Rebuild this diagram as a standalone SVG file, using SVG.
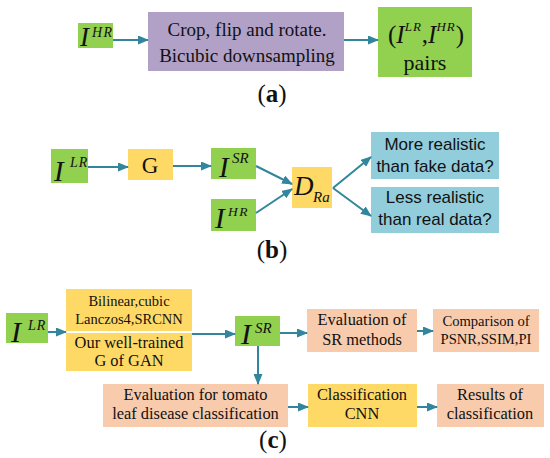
<svg xmlns="http://www.w3.org/2000/svg" width="550" height="458" viewBox="0 0 550 458" font-family="'Liberation Serif','Times New Roman',serif">
<defs>
<style>
.g{fill:#92d050}.p{fill:#b2a1c7}.y{fill:#ffd966}.b{fill:#92cddc}.s{fill:#f8cbad}
text{font-family:"Liberation Serif","Times New Roman",serif;fill:#111}
text.sans{font-family:"Liberation Sans",Arial,sans-serif}
.c{text-anchor:middle}
.it{font-style:italic}
.lab{font-size:25px}
.lab tspan.bd{font-weight:bold}
.ar{stroke:#31859c;stroke-width:2;fill:none;marker-end:url(#ah)}
</style>
<marker id="ah" markerUnits="userSpaceOnUse" markerWidth="11" markerHeight="9" refX="10" refY="4.5" orient="auto">
<path d="M0,0 L11,4.5 L0,9 z" fill="#31859c"/>
</marker>
</defs>
<rect width="550" height="458" fill="#fff"/>

<!-- Panel (a) -->
<g id="a-ihr">
<rect class="g" x="78" y="23" width="35" height="25"/>
<text class="it" x="80" y="46" font-size="27">I</text>
<text class="it" x="92" y="37" font-size="14" letter-spacing="1.5">HR</text>
</g>
<g id="a-proc">
<rect class="p" x="148" y="12" width="196" height="59"/>
<text class="c" x="247" y="36" font-size="19">Crop, flip and rotate.</text>
<text class="c" x="247" y="62" font-size="19">Bicubic downsampling</text>
</g>
<g id="a-pairs">
<rect class="g" x="378" y="7" width="94" height="70"/>
<text x="388" y="43" font-size="25">(<tspan class="it">I</tspan><tspan class="it" font-size="13" dy="-12" letter-spacing="1">LR</tspan><tspan dy="12">,</tspan><tspan class="it">I</tspan><tspan class="it" font-size="13" dy="-12" letter-spacing="1">HR</tspan><tspan dy="12">)</tspan></text>
<text class="c" x="425" y="70" font-size="22">pairs</text>
</g>
<text id="lab-a" class="lab c" x="272" y="102">(<tspan class="bd">a</tspan>)</text>

<!-- Panel (b) -->
<g id="b-ilr">
<rect class="g" x="51" y="149" width="37" height="34"/>
<text class="it" x="54" y="181" font-size="29">I</text>
<text class="it" x="70" y="167" font-size="14" letter-spacing="1">LR</text>
</g>
<g id="b-g">
<rect class="y" x="128" y="149" width="45" height="31"/>
<text class="c" x="150" y="173" font-size="23">G</text>
</g>
<g id="b-isr">
<rect class="g" x="211" y="148" width="45" height="31"/>
<text class="it" x="219" y="177" font-size="29">I</text>
<text class="it" x="232" y="163" font-size="15">SR</text>
</g>
<g id="b-ihr">
<rect class="g" x="211" y="199" width="45" height="32"/>
<text class="it" x="215" y="228" font-size="29">I</text>
<text class="it" x="228" y="216" font-size="13.5" letter-spacing="1.5">HR</text>
</g>
<g id="b-dra">
<rect class="y" x="292" y="167" width="40" height="41"/>
<text class="it" x="294" y="195" font-size="27">D</text>
<text class="it" x="313" y="202" font-size="15">Ra</text>
</g>
<g id="b-more">
<rect class="b" x="371" y="132" width="128" height="47"/>
<text class="c sans" x="435" y="150" font-size="17">More realistic</text>
<text class="c sans" x="435" y="172" font-size="17">than fake data?</text>
</g>
<g id="b-less">
<rect class="b" x="371" y="187" width="128" height="46"/>
<text class="c sans" x="435" y="203" font-size="17">Less realistic</text>
<text class="c sans" x="435" y="225" font-size="17">than real data?</text>
</g>
<text id="lab-b" class="lab c" x="272" y="258">(<tspan class="bd">b</tspan>)</text>

<!-- Panel (c) -->
<g id="c-ilr">
<rect class="g" x="6" y="313" width="42" height="30"/>
<text class="it" x="11" y="342" font-size="30">I</text>
<text class="it" x="28" y="330" font-size="14" letter-spacing="1">LR</text>
</g>
<g id="c-methods">
<rect class="y" x="66" y="289" width="126" height="82"/>
<line x1="66" y1="332" x2="192" y2="332" stroke="#fff" stroke-width="2"/>
<text class="c" x="129" y="306" font-size="14.5">Bilinear,cubic</text>
<text class="c" x="129" y="324" font-size="14.5">Lanczos4,SRCNN</text>
<text class="c" x="129" y="348" font-size="16.4">Our well-trained</text>
<text class="c" x="129" y="366" font-size="16.4">G of GAN</text>
</g>
<g id="c-isr">
<rect class="g" x="235" y="316" width="45" height="30"/>
<text class="it" x="241" y="344" font-size="30">I</text>
<text class="it" x="255" y="333" font-size="15">SR</text>
</g>
<g id="c-evsr">
<rect class="s" x="307" y="309" width="110" height="43"/>
<text class="c" x="362" y="325" font-size="16.4">Evaluation of</text>
<text class="c" x="362" y="345" font-size="16.4">SR methods</text>
</g>
<g id="c-comp">
<rect class="s" x="433" y="309" width="106" height="43"/>
<text class="c" x="486" y="326" font-size="14.6">Comparison of</text>
<text class="c" x="486" y="344" font-size="14.6">PSNR,SSIM,PI</text>
</g>
<g id="c-evtomato">
<rect class="s" x="103" y="384" width="185" height="43"/>
<text class="c" x="195.5" y="400" font-size="16.4">Evaluation for tomato</text>
<text class="c" x="195.5" y="419" font-size="16.4">leaf disease classification</text>
</g>
<g id="c-cnn">
<rect class="y" x="308" y="384" width="109" height="43"/>
<text class="c" x="362" y="400" font-size="16.4">Classification</text>
<text class="c" x="362" y="419" font-size="16.4">CNN</text>
</g>
<g id="c-results">
<rect class="s" x="437" y="384" width="107" height="43"/>
<text class="c" x="490" y="400" font-size="16.4">Results of</text>
<text class="c" x="490" y="419" font-size="16.4">classification</text>
</g>
<text id="lab-c" class="lab c" x="273" y="448">(<tspan class="bd">c</tspan>)</text>

<!-- Connectors -->
<g id="connectors">
<path class="ar" d="M113,40 L148,40"/>
<path class="ar" d="M344,40 L378,40"/>
<path class="ar" d="M88,167 L128,167"/>
<path class="ar" d="M173,166 L211,166"/>
<path class="ar" d="M256,166 L292,184"/>
<path class="ar" d="M256,213 L292,189"/>
<path class="ar" d="M333,188 L371,157"/>
<path class="ar" d="M333,188 L371,216"/>
<path class="ar" d="M48,332 L66,332"/>
<path class="ar" d="M192,334 L235,334"/>
<path class="ar" d="M280,333 L307,333"/>
<path class="ar" d="M417,331 L433,331"/>
<path class="ar" d="M258,346 L258,384"/>
<path class="ar" d="M288,407 L308,407"/>
<path class="ar" d="M417,407 L437,407"/>
</g>
</svg>
